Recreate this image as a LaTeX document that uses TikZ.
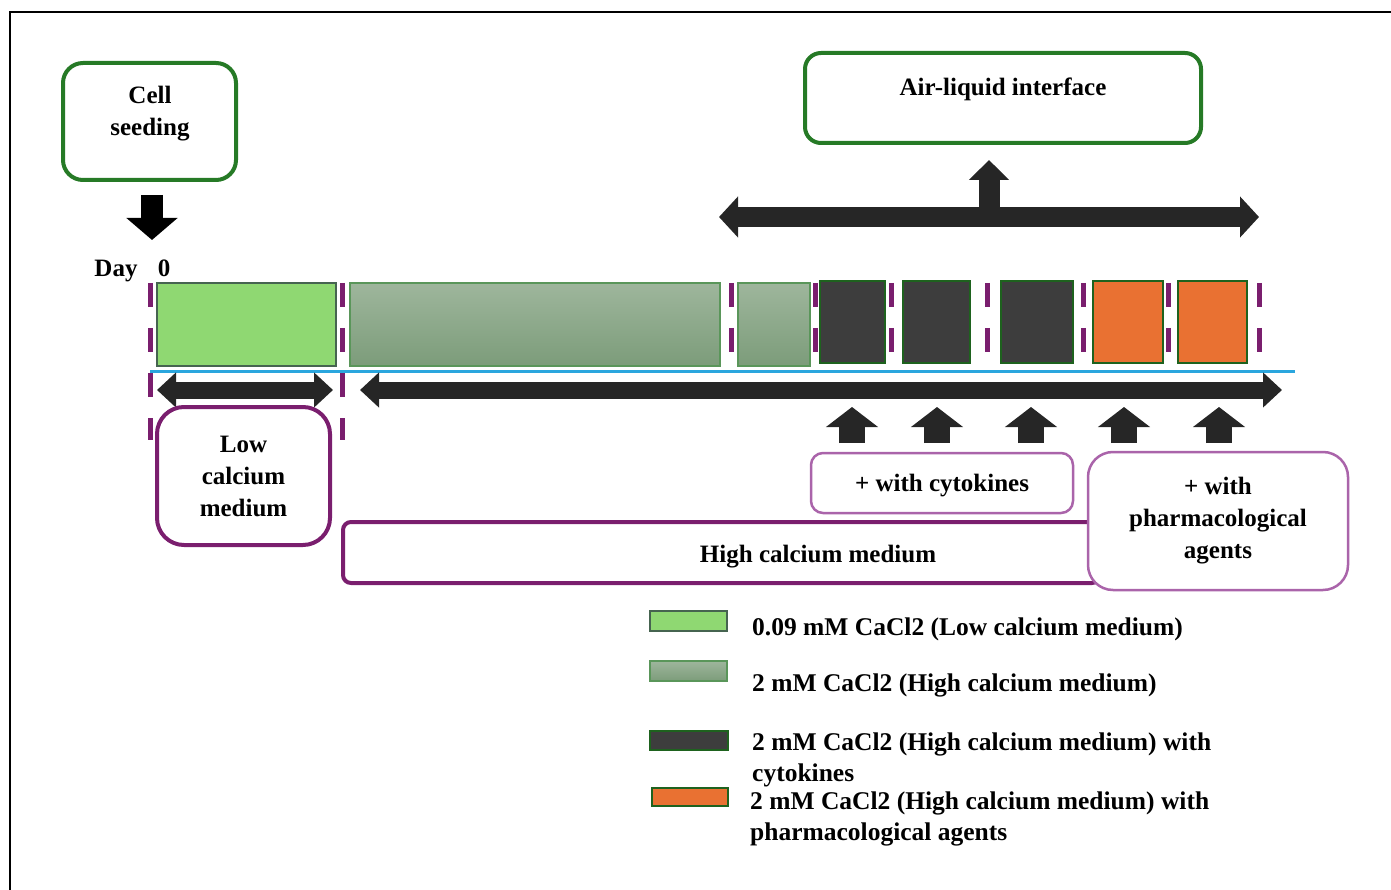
\documentclass[tikz,border=0pt]{standalone}
\usepackage{fontspec}
\setmainfont{Liberation Serif}
\usetikzlibrary{arrows.meta}

\definecolor{boxgreen}{RGB}{38,122,38}
\definecolor{deeppurple}{RGB}{122,30,110}
\definecolor{softpurple}{RGB}{170,100,170}
\definecolor{lineblue}{RGB}{42,166,222}
\definecolor{lowfill}{RGB}{143,216,114}
\definecolor{lowedge}{RGB}{70,100,80}
\definecolor{hightop}{RGB}{158,182,156}
\definecolor{highbot}{RGB}{124,156,122}
\definecolor{highedge}{RGB}{90,150,90}
\definecolor{cytofill}{RGB}{61,61,61}
\definecolor{pharmfill}{RGB}{233,113,50}
\definecolor{arrowdark}{RGB}{38,38,38}

\tikzset{
  txt/.style={font=\bfseries\fontsize{25}{32}\selectfont, align=center, inner sep=0pt},
  legendtxt/.style={font=\bfseries\fontsize{25.5}{31}\selectfont, inner sep=0pt, anchor=base west},
  greenbox/.style={draw=boxgreen, line width=4pt, rounded corners=20pt, inner sep=0pt},
  purplebox/.style={draw=deeppurple, line width=4pt, rounded corners=27pt, inner sep=0pt, align=center,
    font=\bfseries\fontsize{25}{32}\selectfont},
  thinbox/.style={draw=softpurple, line width=2.5pt, rounded corners=22pt, inner sep=0pt, align=center,
    fill=white, font=\bfseries\fontsize{25}{32}\selectfont},
  lowbar/.style={draw=lowedge, line width=2pt, fill=lowfill, inner sep=0pt},
  highbar/.style={draw=highedge, line width=2pt, top color=hightop, bottom color=highbot, inner sep=0pt},
  cytobar/.style={draw=boxgreen!80!black, line width=2pt, fill=cytofill, inner sep=0pt},
  pharmbar/.style={draw=boxgreen!80!black, line width=2pt, fill=pharmfill, inner sep=0pt},
  separator/.style={draw=deeppurple, line width=5pt, dash pattern=on 24pt off 21pt},
  blockarrow/.style={draw=arrowdark, line width=17pt,
    {Triangle[width=34pt,length=19pt]}-{Triangle[width=34pt,length=19pt]}},
  uparrow/.style={draw=arrowdark, line width=26pt, -{Triangle[width=51pt,length=20pt]}},
}

\begin{document}
\begin{tikzpicture}[x=1pt,y=-1pt]
\useasboundingbox (0,0) rectangle (1391,890);
\clip (0,0) rectangle (1391,890);

% frame
\draw[line width=2.5pt] (10,900) -- (10,12) -- (1400,12);

% seeding and air-liquid interface boxes
\node[greenbox, minimum width=173pt, minimum height=117pt] (seed) at (149.5,121.5) {};
\node[txt] (seedtxt) at (150,114) {Cell\\seeding};
\node[greenbox, rounded corners=16pt, minimum width=396pt, minimum height=90pt] (ali) at (1003,98) {};
\node[txt] (alitxt) at (1003,89) {Air-liquid interface};

% seeding arrow
\coordinate (seedA) at (152,195);
\coordinate (seedB) at (152,240);
\draw[line width=22pt, -{Triangle[width=50pt,length=22pt]}] (seedA) -- (seedB);

% day label
\node[txt, anchor=base] (daylbl) at (116,277) {Day};
\node[txt, anchor=base] (dayzero) at (164,277) {0};

% separators between culture phases
\foreach \x in {150,342}
  \draw[separator] (\x,283) -- (\x,440);
\foreach \x in {731,815,891,987,1083,1168,1259}
  \draw[separator] (\x,283) -- (\x,353);

% culture phases
\node[lowbar, minimum width=179pt, minimum height=83pt] (b1) at (246.5,324.5) {};
\node[highbar, minimum width=370pt, minimum height=83pt] (b2) at (535,324.5) {};
\node[highbar, minimum width=72pt, minimum height=83pt] (b3) at (774,324.5) {};
\node[cytobar, minimum width=65pt, minimum height=82pt] (c1) at (852.5,322) {};
\node[cytobar, minimum width=67pt, minimum height=82pt] (c2) at (936.5,322) {};
\node[cytobar, minimum width=72pt, minimum height=82pt] (c3) at (1037,322) {};
\node[pharmbar, minimum width=70pt, minimum height=82pt] (p1) at (1128,322) {};
\node[pharmbar, minimum width=69pt, minimum height=82pt] (p2) at (1212.5,322) {};

% time line
\coordinate (tlA) at (150,371);
\coordinate (tlB) at (1295,371);
\draw[lineblue, line width=3pt] (tlA) -- (tlB);

% duration arrows
\coordinate (lowA) at (157,390);
\coordinate (lowB) at (333,390);
\draw[blockarrow] (lowA) -- (lowB);
\coordinate (highA) at (360,390);
\coordinate (highB) at (1282,390);
\draw[blockarrow] (highA) -- (highB);

% air-liquid interface span
\coordinate (aliA) at (719,217);
\coordinate (aliB) at (1259,217);
\draw[draw=arrowdark, line width=20pt,
  {Triangle[width=40pt,length=19pt]}-{Triangle[width=40pt,length=19pt]}] (aliA) -- (aliB);
\coordinate (aliUp) at (989,218);
\coordinate (aliTip) at (989,160);
\draw[draw=arrowdark, line width=21pt, -{Triangle[width=39pt,length=20pt]}] (aliUp) -- (aliTip);

% treatment arrows
\foreach \x [count=\i] in {852,937,1031,1124,1219} {
  \coordinate (tA\i) at (\x,443);
  \coordinate (tB\i) at (\x,407);
  \draw[uparrow] (tA\i) -- (tB\i);
}

% medium boxes
\node[purplebox, minimum width=173pt, minimum height=138pt] (low) at (243.5,476) {Low\\calcium\\medium};
\node[purplebox, rounded corners=8pt, minimum width=757pt, minimum height=61pt] (high) at (721.5,552.5) {};
\node[txt] (hightxt) at (818,557) {High calcium medium};
\node[thinbox, rounded corners=12pt, minimum width=262pt, minimum height=60pt, text depth=0pt] (cyto) at (942,483) {+ with cytokines};
\node[thinbox, rounded corners=25pt, minimum width=260pt, minimum height=138pt] (pharm) at (1218,521) {+ with\\pharmacological\\agents};

% legend
\node[lowbar, minimum width=77pt, minimum height=20pt] (k1) at (688.5,621) {};
\node[highbar, minimum width=77pt, minimum height=20pt] (k2) at (688.5,671) {};
\node[cytobar, minimum width=78pt, minimum height=19pt] (k3) at (689,740.5) {};
\node[pharmbar, minimum width=76pt, minimum height=18pt] (k4) at (690,797) {};
\node[legendtxt] (l1) at (752,635) {0.09 mM CaCl2 (Low calcium medium)};
\node[legendtxt] (l2) at (752,691) {2 mM CaCl2 (High calcium medium)};
\node[legendtxt] (l3) at (752,750) {2 mM CaCl2 (High calcium medium) with};
\node[legendtxt] (l3b) at (752,781) {cytokines};
\node[legendtxt] (l4) at (750,809) {2 mM CaCl2 (High calcium medium) with};
\node[legendtxt] (l4b) at (750,840) {pharmacological agents};
\end{tikzpicture}
\end{document}
